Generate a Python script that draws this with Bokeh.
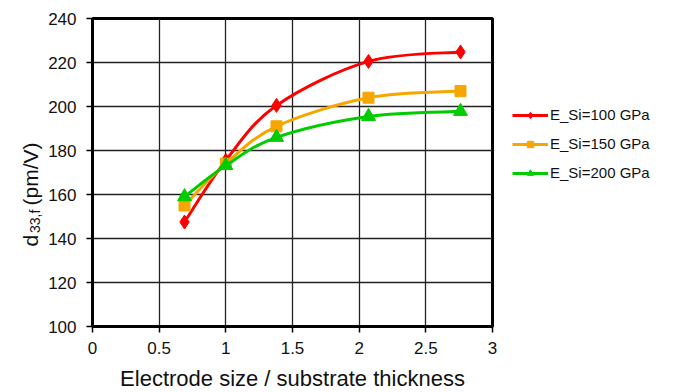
import numpy as np
from bokeh.plotting import figure
from bokeh.layouts import row
from bokeh.models import Range1d, Legend, LegendItem, Label, FixedTicker, ColumnDataSource
from bokeh.embed import file_html
from bokeh.resources import INLINE

# ---- data ----
ratio = [0.69, 1.0, 1.38, 2.07, 2.76]
d33_100 = [147.5, 175.5, 200.5, 220.5, 224.8]
d33_150 = [155.0, 174.0, 191.0, 204.0, 207.0]
d33_200 = [159.0, 173.2, 186.0, 195.5, 197.8]
series_names = ["E_Si=100 GPa", "E_Si=150 GPa", "E_Si=200 GPa"]
x_ticks = [0, 0.5, 1, 1.5, 2, 2.5, 3]
y_ticks = [100, 120, 140, 160, 180, 200, 220, 240]

colors = ["#FF0000", "#F5A700", "#00CC00"]
markers = ["diamond", "square", "triangle"]
msizes = [14, 11, 14]
FONT = "Liberation Sans"
TXT = "#111111"

# ---- narrow strip holding the y-axis title (with subscript) ----
tw = 44
t = figure(frame_width=tw, frame_height=392, output_backend="svg", toolbar_location=None,
           title=None, x_range=Range1d(0, tw), y_range=Range1d(392, 0),
           x_axis_location=None, y_axis_location=None,
           min_border_left=0, min_border_right=0, min_border_top=0, min_border_bottom=0)
t.outline_line_color = None
t.xgrid.visible = False
t.ygrid.visible = False
lab_kw = dict(angle=np.pi / 2, text_font=FONT, text_color=TXT,
              text_baseline="alphabetic", text_align="left")
t.add_layout(Label(x=30, y=228, text="d", text_font_size="21px", **lab_kw))
t.add_layout(Label(x=34.5, y=214.5, text="33,f", text_font_size="14px", **lab_kw))
t.add_layout(Label(x=30, y=187, text="(pm/V)", text_font_size="21px", **lab_kw))

# ---- main chart ----
p = figure(frame_width=400, frame_height=308, output_backend="svg", toolbar_location=None,
           x_range=Range1d(0, 3), y_range=Range1d(100, 240),
           min_border_left=92 - tw, min_border_right=181, min_border_top=18, min_border_bottom=66)

p.outline_line_color = "black"
p.outline_line_width = 3

for ax in (p.xaxis[0], p.yaxis[0]):
    ax.axis_line_color = "black"
    ax.axis_line_width = 3
    ax.major_tick_line_color = "black"
    ax.major_tick_line_width = 1.5
    ax.major_tick_out = 6
    ax.major_tick_in = 0
    ax.minor_tick_line_color = None
    ax.major_label_text_font = FONT
    ax.major_label_text_font_size = "17px"
    ax.major_label_text_color = TXT

p.xaxis.ticker = FixedTicker(ticks=x_ticks)
p.yaxis.ticker = FixedTicker(ticks=y_ticks)
p.xaxis.major_label_standoff = 9
p.yaxis.major_label_standoff = 10
p.xaxis.axis_label = "Electrode size / substrate thickness"
p.xaxis.axis_label_text_font = FONT
p.xaxis.axis_label_text_font_size = "22px"
p.xaxis.axis_label_text_font_style = "normal"
p.xaxis.axis_label_text_color = TXT
p.xaxis.axis_label_standoff = 9

for g in (p.xgrid[0], p.ygrid[0]):
    g.grid_line_color = "#222222"
    g.grid_line_width = 1.3
p.xgrid.ticker = FixedTicker(ticks=x_ticks)
p.ygrid.ticker = FixedTicker(ticks=y_ticks)


def bezier_source(xs, ys):
    xs = np.asarray(xs, float)
    ys = np.asarray(ys, float)
    n = len(xs)
    x0, y0, x1, y1, cx0, cy0, cx1, cy1 = ([] for _ in range(8))
    for i in range(n - 1):
        im = max(i - 1, 0)
        ip2 = min(i + 2, n - 1)
        x0.append(xs[i]); y0.append(ys[i])
        x1.append(xs[i + 1]); y1.append(ys[i + 1])
        cx0.append(xs[i] + (xs[i + 1] - xs[im]) / 6)
        cy0.append(ys[i] + (ys[i + 1] - ys[im]) / 6)
        cx1.append(xs[i + 1] - (xs[ip2] - xs[i]) / 6)
        cy1.append(ys[i + 1] - (ys[ip2] - ys[i]) / 6)
    return ColumnDataSource(dict(x0=x0, y0=y0, x1=x1, y1=y1,
                                 cx0=cx0, cy0=cy0, cx1=cx1, cy1=cy1))


items = []
for ys, name, c, m, s in zip([d33_100, d33_150, d33_200], series_names, colors, markers, msizes):
    src = bezier_source(ratio, ys)
    b = p.bezier(x0="x0", y0="y0", x1="x1", y1="y1", cx0="cx0", cy0="cy0",
                 cx1="cx1", cy1="cy1", source=src, line_color=c, line_width=3)
    sc = p.scatter(ratio, ys, marker=m, size=s, fill_color=c, line_color=c)
    items.append(LegendItem(label=name, renderers=[b, sc]))

legend = Legend(items=items, location=(20, 145), border_line_color=None,
                background_fill_alpha=0, padding=0, margin=0, spacing=12,
                glyph_width=36, glyph_height=16, label_standoff=2,
                label_text_font=FONT, label_text_font_size="15px",
                label_text_color=TXT, label_height=16)
p.add_layout(legend, "right")

layout = row(t, p, spacing=0)
open("out.html", "w").write(file_html(layout, INLINE))
